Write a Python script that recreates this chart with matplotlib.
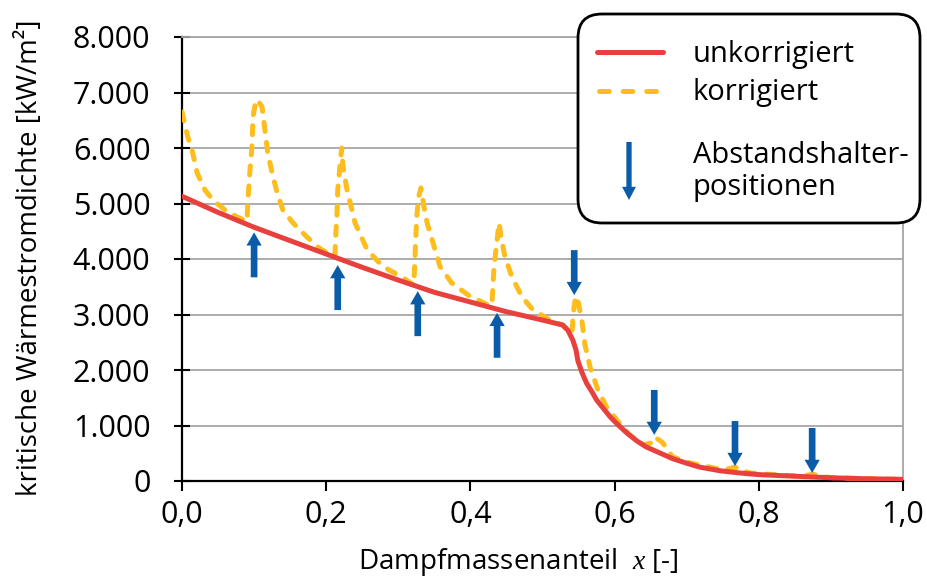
import matplotlib
matplotlib.use('Agg')
import matplotlib.pyplot as plt
from matplotlib.patches import FancyBboxPatch
from matplotlib.lines import Line2D

plt.rcParams['font.family'] = ['Open Sans', 'DejaVu Sans']
plt.rcParams['mathtext.fontset'] = 'custom'
plt.rcParams['mathtext.it'] = 'Liberation Serif:italic'
plt.rcParams['mathtext.rm'] = 'Liberation Serif'
plt.rcParams['lines.scale_dashes'] = False

# ---------------- data ----------------
red_x = [0.000, 0.050, 0.099, 0.150, 0.200, 0.250, 0.300, 0.350, 0.400, 0.450,
         0.500, 0.528, 0.535, 0.542, 0.5465, 0.549, 0.555, 0.561, 0.5687,
         0.575, 0.584, 0.594, 0.605, 0.617, 0.631, 0.644, 0.663, 0.681,
         0.700, 0.718, 0.746, 0.774, 0.800, 0.843, 0.900, 0.950, 1.000]
red_y = [5130, 4840, 4577, 4330, 4090, 3850, 3620, 3400, 3225, 3050,
         2900, 2810, 2720, 2540, 2360, 2170, 1946, 1766, 1604,
         1460, 1315, 1153, 1009, 865, 721, 613, 504, 400,
         320, 250, 185, 144, 115, 90, 58, 40, 30]

yel_x = [0.000, 0.008, 0.014, 0.021, 0.032, 0.043, 0.060, 0.076, 0.090,
         0.0915, 0.094, 0.097, 0.0985, 0.1026, 0.107, 0.111, 0.115, 0.119,
         0.125, 0.132, 0.140, 0.154, 0.173, 0.190, 0.205, 0.2120,
         0.2136, 0.215, 0.216, 0.219, 0.2215, 0.2233, 0.229, 0.240, 0.257,
         0.279, 0.307, 0.3215,
         0.323, 0.3245, 0.326, 0.3287, 0.3315, 0.3356, 0.340, 0.347, 0.358,
         0.374, 0.397, 0.420, 0.428,
         0.430, 0.4327, 0.437, 0.4397, 0.4425, 0.448, 0.4577, 0.4716, 0.487,
         0.510, 0.528,
         0.536, 0.541, 0.5425, 0.546, 0.550, 0.555, 0.559, 0.566, 0.577, 0.589,
         0.603, 0.620,
         0.640, 0.652, 0.656, 0.666, 0.674, 0.680, 0.700,
         0.750, 0.762, 0.767, 0.775, 0.790,
         0.860, 0.875, 0.885, 0.900, 0.950, 1.000]
yel_y = [6650, 6200, 5960, 5550, 5240, 5060, 4880, 4760, 4680,
         5060, 5550, 6020, 6560, 6870, 6820, 6740, 6320, 5910,
         5550, 5190, 4880, 4650, 4400, 4200, 4080, 4050,
         4520, 4830, 5240, 5660, 6000, 5660, 5240, 4650, 4160,
         3860, 3660, 3530,
         3980, 4470, 4830, 5150, 5280, 4940, 4650, 4340, 3860,
         3570, 3350, 3200, 3150,
         3207, 3856, 4342, 4650, 4400, 4036, 3676, 3315, 3081,
         2900, 2810,
         2700, 2660, 3000, 3330, 3200, 2850, 2450, 2050, 1640, 1330,
         1100, 840,
         650, 690, 790, 700, 560, 440, 340,
         200, 230, 255, 190, 140,
         85, 125, 85, 62, 40, 30]

spacer_x = [0.100, 0.216, 0.327, 0.437, 0.544, 0.655, 0.767, 0.874]
spacer_tip = [4480, 3890, 3420, 3030, 3350, 830, 270, 145]
spacer_dir = ['up', 'up', 'up', 'up', 'down', 'down', 'down', 'down']

x_ticks = [0.0, 0.2, 0.4, 0.6, 0.8, 1.0]
x_tick_labels = ['0,0', '0,2', '0,4', '0,6', '0,8', '1,0']
y_ticks = [0, 1000, 2000, 3000, 4000, 5000, 6000, 7000, 8000]
y_tick_labels = ['0', '1.000', '2.000', '3.000', '4.000', '5.000',
                 '6.000', '7.000', '8.000']

legend_labels = ['unkorrigiert', 'korrigiert', 'Abstandshalter-', 'positionen']

# ---------------- style ----------------
RED = '#e8403d'
YEL = '#fdbd1c'
BLUE = '#0b5ca8'
ARROW_LEN = 810
ARROW_STYLE = 'simple,head_length=0.95,head_width=1.1,tail_width=0.48'

W, H = 927, 579
fig = plt.figure(figsize=(W / 100, H / 100), dpi=100)
ax = fig.add_axes([182 / W, (H - 481) / H, 721 / W, 444 / H])
ax.set_xlim(0, 1)
ax.set_ylim(0, 8000)

ax.set_xticks(x_ticks)
ax.set_xticklabels(x_tick_labels)
ax.set_yticks(y_ticks)
ax.set_yticklabels(y_tick_labels)
ax.tick_params(axis='y', direction='inout', length=11.5, width=1.5,
               pad=17, labelsize=22, colors='black')
ax.tick_params(axis='x', direction='out', length=7, width=1.5,
               pad=7, labelsize=22, colors='black')

ax.grid(axis='y', color='#a6a6a6', lw=1.3)
ax.set_axisbelow(True)
for s in ['left', 'bottom']:
    ax.spines[s].set_color('black')
    ax.spines[s].set_linewidth(1.6)
for s in ['right', 'top']:
    ax.spines[s].set_color('#a6a6a6')
    ax.spines[s].set_linewidth(1.3)

ax.plot(yel_x, yel_y, color=YEL, lw=3.6, dashes=(6.5, 8),
        dash_capstyle='round', dash_joinstyle='round', zorder=3)
ax.plot(red_x, red_y, color=RED, lw=3.6, solid_capstyle='round',
        solid_joinstyle='round', zorder=4)

for xs, tip, d in zip(spacer_x, spacer_tip, spacer_dir):
    tail = tip - ARROW_LEN if d == 'up' else tip + ARROW_LEN
    ax.annotate('', xy=(xs, tip), xytext=(xs, tail),
                arrowprops=dict(arrowstyle=ARROW_STYLE, mutation_scale=10,
                                fc=BLUE, ec='none', lw=0,
                                shrinkA=0, shrinkB=0),
                zorder=5)

fig.text(518 / W, 1 - 562 / H, r'Dampfmassenanteil  $\mathit{x}$ [-]',
         ha='center', va='center', fontsize=20)
fig.text(30 / W, 1 - 258 / H, 'kritische Wärmestromdichte [kW/m²]',
         ha='center', va='center', rotation=90, fontsize=20)

# ---------------- legend (pixel overlay) ----------------
lg = fig.add_axes([0, 0, 1, 1])
lg.set_xlim(0, W)
lg.set_ylim(H, 0)
lg.axis('off')
lg.add_patch(FancyBboxPatch((578, 14), 342, 209,
                            boxstyle='round,pad=0,rounding_size=24',
                            fc='white', ec='black', lw=2))
lg.add_line(Line2D([597, 663], [52, 52], color=RED, lw=3.6,
                   solid_capstyle='round'))
lg.add_line(Line2D([599, 663], [91, 91], color=YEL, lw=3.6, dashes=(7, 10),
                   dash_capstyle='round'))
lg.annotate('', xy=(629, 200), xytext=(629, 142),
            arrowprops=dict(arrowstyle='simple,head_length=0.95,head_width=1.0,tail_width=0.38',
                            mutation_scale=10, fc=BLUE, ec='none', lw=0,
                            shrinkA=0, shrinkB=0))
lg.text(693, 62, legend_labels[0], fontsize=21, va='baseline')
lg.text(693, 100, legend_labels[1], fontsize=21, va='baseline')
lg.text(693, 163, legend_labels[2], fontsize=21, va='baseline')
lg.text(693, 195, legend_labels[3], fontsize=21, va='baseline')

fig.savefig('out.png', dpi=100)
